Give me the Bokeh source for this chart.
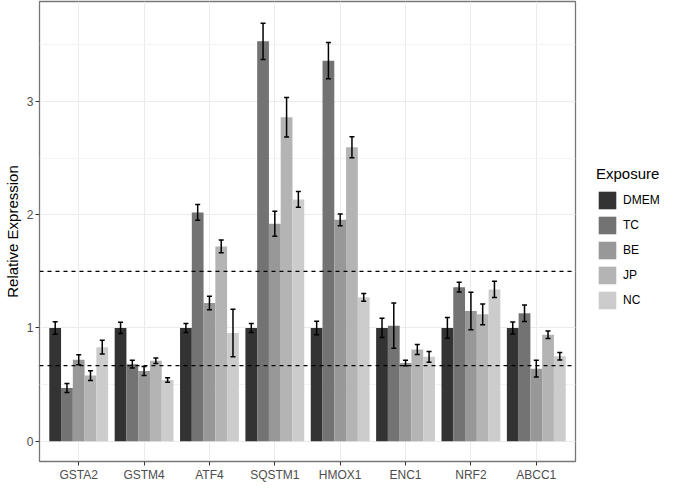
from bokeh.plotting import figure
from bokeh.models import (ColumnDataSource, FactorRange, Range1d, Whisker, TeeHead,
                          Span, Legend, LegendItem, SingleIntervalTicker)
from bokeh.transform import dodge
from bokeh.embed import file_html
from bokeh.resources import INLINE

genes = ["GSTA2", "GSTM4", "ATF4", "SQSTM1", "HMOX1", "ENC1", "NRF2", "ABCC1"]
exposures = ["DMEM", "TC", "BE", "JP", "NC"]

dmem = [1.0, 1.0, 1.0, 1.0, 1.0, 1.0, 1.0, 1.0]
dmem_err = [0.055, 0.05, 0.04, 0.04, 0.06, 0.085, 0.092, 0.053]
tc = [0.47, 0.68, 2.02, 3.53, 3.36, 1.02, 1.36, 1.13]
tc_err = [0.04, 0.034, 0.07, 0.16, 0.16, 0.2, 0.043, 0.072]
be = [0.72, 0.62, 1.22, 1.92, 1.955, 0.69, 1.15, 0.64]
be_err = [0.044, 0.04, 0.06, 0.11, 0.052, 0.024, 0.166, 0.074]
jp = [0.58, 0.71, 1.72, 2.86, 2.595, 0.81, 1.12, 0.94]
jp_err = [0.043, 0.024, 0.057, 0.174, 0.092, 0.045, 0.092, 0.033]
nc = [0.83, 0.54, 0.955, 2.135, 1.27, 0.745, 1.34, 0.75]
nc_err = [0.061, 0.02, 0.21, 0.07, 0.035, 0.047, 0.072, 0.033]

thresholds = [1.5, 1 / 1.5]

series = [dmem, tc, be, jp, nc]
errors = [dmem_err, tc_err, be_err, jp_err, nc_err]
colors = ["#333333", "#737373", "#989898", "#b4b4b4", "#cccccc"]

FONT = "Liberation Sans"

p = figure(x_range=FactorRange(factors=genes, range_padding=0.1, range_padding_units="absolute"),
           y_range=Range1d(-0.179, 3.882),
           frame_width=536, frame_height=460, output_backend="svg", toolbar_location=None,
           min_border_left=31, min_border_right=86, min_border_top=1, min_border_bottom=22)

p.background_fill_color = "white"
p.border_fill_color = "white"
p.outline_line_color = "#777777"
p.outline_line_width = 1.3

p.yaxis.ticker = SingleIntervalTicker(interval=1, num_minor_ticks=2)
p.ygrid.grid_line_color = "#ebebeb"
p.ygrid.grid_line_width = 1
p.ygrid.minor_grid_line_color = "#f3f3f3"
p.ygrid.minor_grid_line_width = 1
p.xgrid.grid_line_color = "#ebebeb"
p.xgrid.grid_line_width = 1

for ax in (p.xaxis[0], p.yaxis[0]):
    ax.axis_line_color = None
    ax.major_tick_line_color = "#333333"
    ax.major_tick_in = 0
    ax.major_tick_out = 4
    ax.minor_tick_line_color = None
    ax.major_label_text_font = FONT
    ax.major_label_text_font_size = "12px"
    ax.major_label_text_color = "#4d4d4d"
    ax.major_label_standoff = 2

p.yaxis.axis_label = "Relative Expression"
p.yaxis.axis_label_text_font = FONT
p.yaxis.axis_label_text_font_size = "15px"
p.yaxis.axis_label_text_font_style = "normal"
p.yaxis.axis_label_text_color = "black"
p.yaxis.axis_label_standoff = 3

width = 0.9 / 5
offsets = [(-2 + i) * width for i in range(5)]

items = []
for name, vals, errs, col, off in zip(exposures, series, errors, colors, offsets):
    src = ColumnDataSource(dict(gene=genes, top=vals,
                                upper=[v + e for v, e in zip(vals, errs)],
                                lower=[v - e for v, e in zip(vals, errs)]))
    r = p.vbar(x=dodge("gene", off, range=p.x_range), top="top", bottom=0, width=width,
               source=src, fill_color=col, line_color=None)
    items.append(LegendItem(label=name, renderers=[r]))
    w = Whisker(base=dodge("gene", off, range=p.x_range), upper="upper", lower="lower",
                source=src, line_color="black", line_width=1.5, level="annotation",
                upper_head=TeeHead(size=5, line_color="black", line_width=1.5),
                lower_head=TeeHead(size=5, line_color="black", line_width=1.5))
    p.add_layout(w)

for t in thresholds:
    p.add_layout(Span(location=t, dimension="width", line_color="black",
                      line_width=1.2, line_dash="4 4", level="annotation"))

legend = Legend(items=items, title="Exposure", location=(21, 150),
                title_text_font=FONT, title_text_font_size="15px",
                title_text_font_style="normal", title_text_color="black",
                title_standoff=7,
                label_text_font=FONT, label_text_font_size="12px", label_text_color="black",
                glyph_width=22, glyph_height=22, spacing=3, label_standoff=5,
                label_height=22, padding=0, margin=0,
                border_line_color=None, background_fill_alpha=0)
p.add_layout(legend, "right")

open("out.html", "w").write(file_html(p, INLINE))
